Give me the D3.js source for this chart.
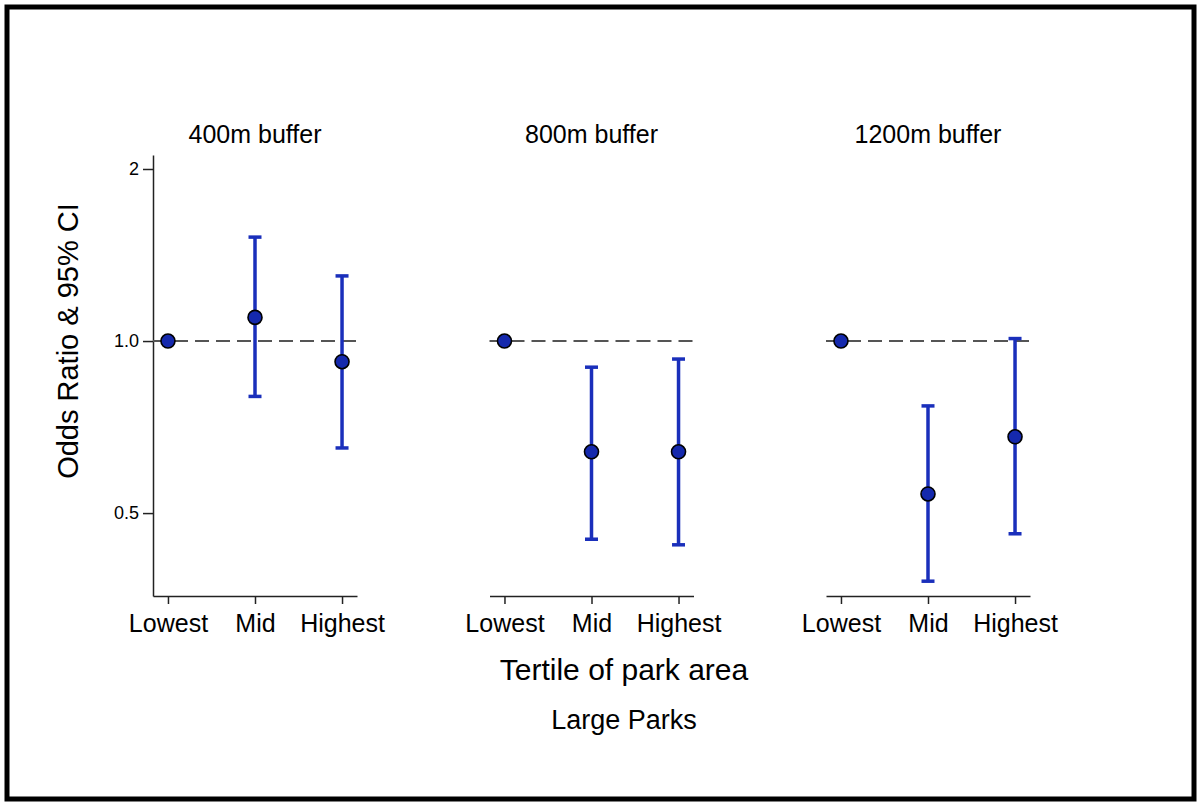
<!DOCTYPE html>
<html lang="en">
<head>
  <meta charset="UTF-8" />
  <title>Large Parks - Odds Ratio</title>
  <style>
    html, body {
      margin: 0;
      padding: 0;
      background: #fff;
    }
    svg {
      display: block;
      font-family: "Liberation Sans", Arial, sans-serif;
    }
  </style>
</head>
<body>

<script src="https://d3js.org/d3.v7.min.js"></script>
<script>
  // data
  const panels = ["400m buffer", "800m buffer", "1200m buffer"];
  const tertiles = ["Lowest", "Mid", "Highest"];
  const orValues = [
    [1.0, 1.10, 0.92],
    [1.0, 0.64, 0.64],
    [1.0, 0.54, 0.68]
  ];
  const ciLower = [
    [null, 0.80, 0.65],
    [null, 0.45, 0.44],
    [null, 0.38, 0.46]
  ];
  const ciUpper = [
    [null, 1.52, 1.30],
    [null, 0.90, 0.93],
    [null, 0.77, 1.01]
  ];
  const yTicks = [0.5, 1.0, 2];
  const yTickLabels = ["0.5", "1.0", "2"];

  const width = 1200;
  const height = 808;
  const plotTop = 155;
  const plotBottom = 596;
  const panelLeft = 153;
  const panelStep = 336.5;
  const panelWidth = 204;

  const dotFill = "#1529ad";
  const barColor = "#1a2fbb";
  const axisColor = "#222";

  const svg = d3.select("body").append("svg")
    .attr("width", width)
    .attr("height", height);

  svg.append("rect")
    .attr("x", 7).attr("y", 7)
    .attr("width", 1187).attr("height", 792)
    .attr("fill", "#fff")
    .attr("stroke", "#000")
    .attr("stroke-width", 5);

  const y = d3.scaleLog()
    .domain([0.358, 2.116])
    .range([plotBottom, plotTop]);

  panels.forEach((name, i) => {
    const x0 = panelLeft + i * panelStep;
    const x = d3.scalePoint()
      .domain(tertiles)
      .range([x0, x0 + panelWidth])
      .padding(0.172);

    const g = svg.append("g");

    // x axis
    const xAxis = g.append("g")
      .attr("transform", `translate(0,${plotBottom})`)
      .call(d3.axisBottom(x).tickSize(8).tickSizeOuter(0));
    xAxis.select(".domain")
      .attr("stroke", axisColor)
      .attr("stroke-width", 1.5);
    xAxis.selectAll(".tick line")
      .attr("stroke", axisColor)
      .attr("stroke-width", 1.5);
    xAxis.selectAll(".tick text")
      .attr("fill", "#000")
      .attr("font-size", 25)
      .attr("dy", 0)
      .attr("y", 36);

    // y axis only on the first panel
    if (i === 0) {
      const yAxis = g.append("g")
        .attr("transform", `translate(${x0},0)`)
        .call(d3.axisLeft(y)
          .tickValues(yTicks)
          .tickFormat((d, k) => yTickLabels[k])
          .tickSize(10)
          .tickSizeOuter(0));
      yAxis.select(".domain")
        .attr("stroke", axisColor)
        .attr("stroke-width", 1.5);
      yAxis.selectAll(".tick line")
        .attr("stroke", axisColor)
        .attr("stroke-width", 1.5);
      yAxis.selectAll(".tick text")
        .attr("fill", "#000")
        .attr("font-size", 18)
        .attr("x", -14);
    }

    // reference line at OR = 1
    g.append("line")
      .attr("x1", x0).attr("x2", x0 + panelWidth)
      .attr("y1", y(1)).attr("y2", y(1))
      .attr("stroke", "#555")
      .attr("stroke-width", 2)
      .attr("stroke-dasharray", "14,7");

    const rows = tertiles.map((t, k) => ({
      t, or: orValues[i][k], lo: ciLower[i][k], hi: ciUpper[i][k]
    }));
    const bars = rows.filter(d => d.lo != null);

    g.selectAll("line.ci")
      .data(bars)
      .join("line")
      .attr("class", "ci")
      .attr("x1", d => x(d.t)).attr("x2", d => x(d.t))
      .attr("y1", d => y(d.lo)).attr("y2", d => y(d.hi))
      .attr("stroke", barColor)
      .attr("stroke-width", 3.5);

    ["lo", "hi"].forEach(key => {
      g.selectAll("line.cap-" + key)
        .data(bars)
        .join("line")
        .attr("class", "cap-" + key)
        .attr("x1", d => x(d.t) - 6.5).attr("x2", d => x(d.t) + 6.5)
        .attr("y1", d => y(d[key])).attr("y2", d => y(d[key]))
        .attr("stroke", barColor)
        .attr("stroke-width", 3.5);
    });

    g.selectAll("circle")
      .data(rows)
      .join("circle")
      .attr("cx", d => x(d.t))
      .attr("cy", d => y(d.or))
      .attr("r", 7)
      .attr("fill", dotFill)
      .attr("stroke", "#000")
      .attr("stroke-width", 1.6);

    // panel title
    g.append("text")
      .attr("x", x0 + panelWidth / 2)
      .attr("y", 143)
      .attr("text-anchor", "middle")
      .attr("font-size", 25)
      .text(name);
  });

  svg.append("text")
    .attr("transform", `translate(78,${y(1)}) rotate(-90)`)
    .attr("text-anchor", "middle")
    .attr("font-size", 29)
    .text("Odds Ratio & 95% CI");

  svg.append("text")
    .attr("x", 624)
    .attr("y", 680)
    .attr("text-anchor", "middle")
    .attr("font-size", 30)
    .text("Tertile of park area");

  svg.append("text")
    .attr("x", 624)
    .attr("y", 729)
    .attr("text-anchor", "middle")
    .attr("font-size", 27)
    .text("Large Parks");
</script>
</body>
</html>
